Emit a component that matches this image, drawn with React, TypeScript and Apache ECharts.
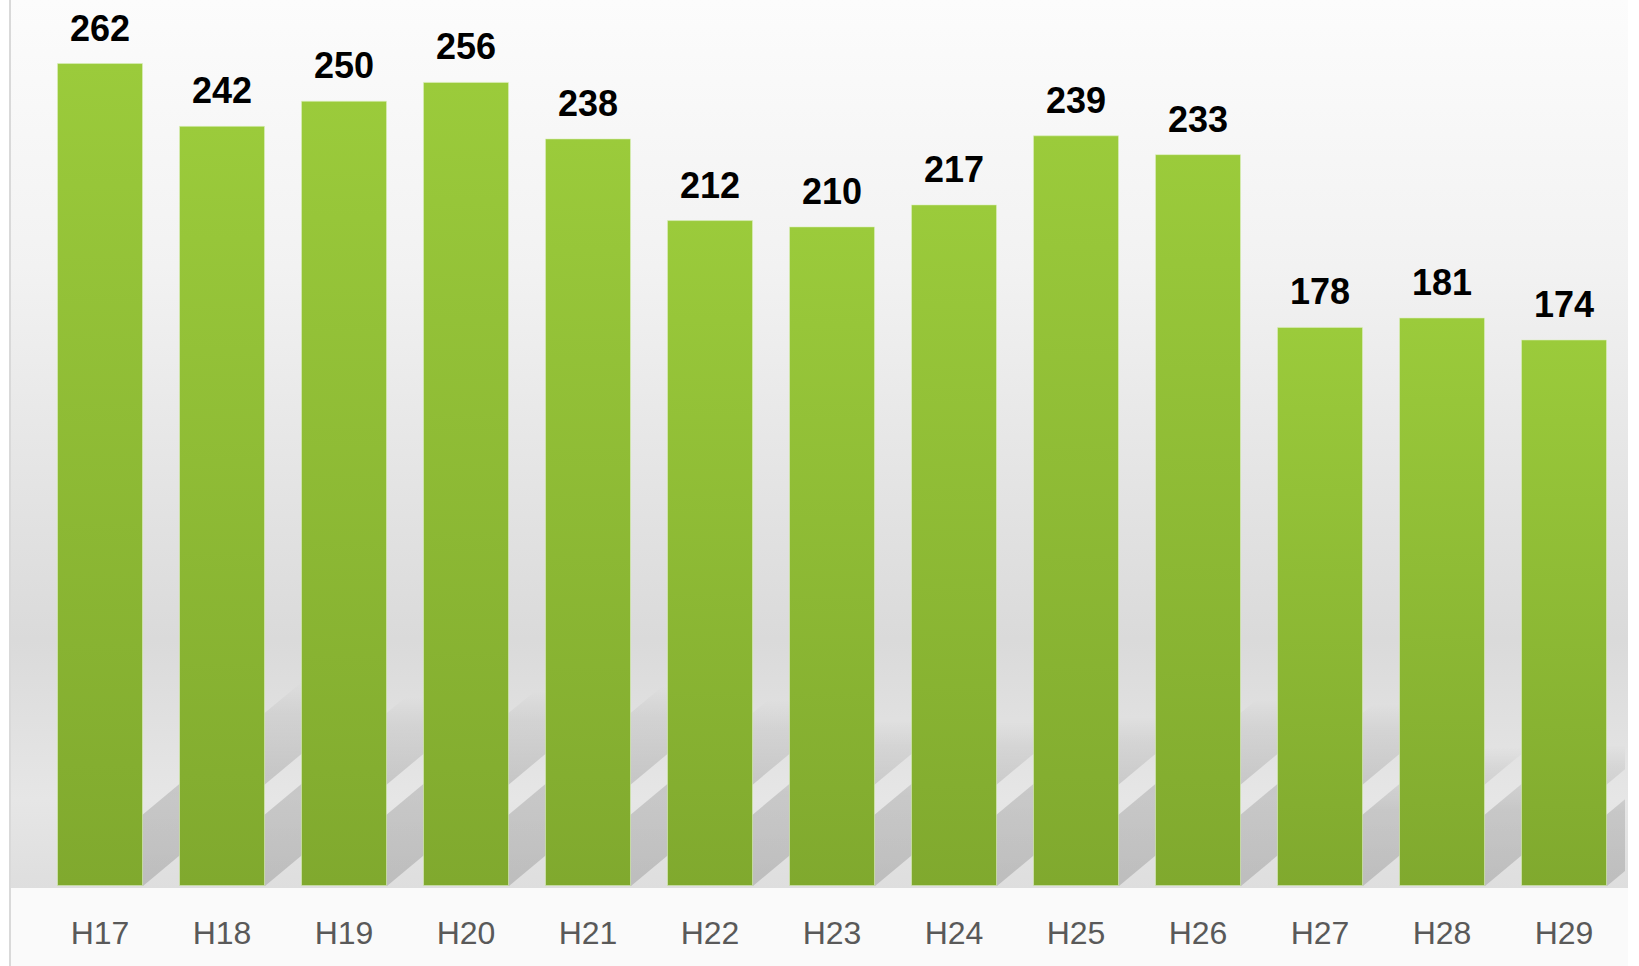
import React, { useEffect, useRef } from "react";
import * as echarts from "echarts";

const categories = ["H17", "H18", "H19", "H20", "H21", "H22", "H23", "H24", "H25", "H26", "H27", "H28", "H29"];
const values = [262, 242, 250, 256, 238, 212, 210, 217, 239, 233, 178, 181, 174];
const yMax = 280;

export default function App() {
  const ref = useRef<HTMLDivElement>(null);
  useEffect(() => {
    if (!ref.current) return;
    const chart = echarts.init(ref.current, null, { renderer: "svg" });
    const W = 1639;
    const bottomY = 888;
    chart.setOption({
      animation: false,
      backgroundColor: "#ffffff",
      graphic: [
        {
          type: "rect",
          z: -10,
          silent: true,
          shape: { x: 10, y: 0, width: 1618, height: bottomY },
          style: {
            fill: new echarts.graphic.LinearGradient(0, 0, 0, 1, [
              { offset: 0, color: "#fcfcfc" },
              { offset: 0.3, color: "#f2f2f2" },
              { offset: 0.72, color: "#dadada" },
              { offset: 0.9, color: "#e6e6e6" },
              { offset: 1, color: "#dedede" },
            ]),
          },
        },
        {
          type: "rect",
          z: -10,
          silent: true,
          shape: { x: 10, y: bottomY, width: 1618, height: 966 - bottomY },
          style: { fill: "#fafafa" },
        },
        {
          type: "line",
          z: -9,
          silent: true,
          shape: { x1: 10, y1: 0, x2: 10, y2: 966 },
          style: { stroke: "#d9d9d9", lineWidth: 2 },
        },
      ],
      grid: { left: 39, right: W - 1625, top: 6.5, bottom: 80, containLabel: false },
      xAxis: {
        type: "category",
        data: categories,
        axisLine: { show: false },
        axisTick: { show: false },
        axisLabel: {
          color: "#595959",
          fontSize: 32,
          fontFamily: "Liberation Sans",
          margin: 31,
        },
      },
      yAxis: {
        type: "value",
        min: 0,
        max: yMax,
        show: false,
        splitLine: { show: false },
      },
      series: [
        {
          type: "custom",
          z: 1,
          silent: true,
          clip: true,
          data: values.map((v, i) => [i, v]),
          renderItem: (params: any, api: any) => {
            const idx = api.value(0);
            const v = api.value(1);
            const base = api.coord([idx, 0]);
            const band = api.size([1, 0])[0];
            const w = band * 0.705;
            const L = v * 0.78;
            const s = 1.2;
            const x0 = base[0] - w / 2;
            const x1 = base[0] + w / 2;
            const yb = base[1];
            return {
              type: "polygon",
              shape: {
                points: [
                  [x0, yb],
                  [x1, yb],
                  [x1 + L * s, yb - L],
                  [x0 + L * s, yb - L],
                ],
              },
              style: {
                fill: new echarts.graphic.LinearGradient(0, 1, 0, 0, [
                  { offset: 0, color: "rgba(0,0,0,0.15)" },
                  { offset: 0.55, color: "rgba(0,0,0,0.13)" },
                  { offset: 0.85, color: "rgba(0,0,0,0.06)" },
                  { offset: 1, color: "rgba(0,0,0,0)" },
                ]),
              },
            };
          },
        },
        {
          type: "bar",
          z: 2,
          data: values,
          barWidth: "70.5%",
          itemStyle: {
            color: new echarts.graphic.LinearGradient(0, 0, 0, 1, [
              { offset: 0, color: "#9bcb3b" },
              { offset: 1, color: "#80a92e" },
            ]),
            borderColor: "rgba(220,240,190,0.6)",
            borderWidth: 1,
          },
          label: {
            show: true,
            position: "top",
            distance: 17,
            color: "#000000",
            fontSize: 36,
            fontWeight: "bold",
            fontFamily: "Liberation Sans",
          },
        },
      ],
    });
    return () => chart.dispose();
  }, []);
  return (
    <div
      ref={ref}
      style={{ position: "fixed", left: 0, top: 0, width: 1639, height: 966 }}
    />
  );
}
